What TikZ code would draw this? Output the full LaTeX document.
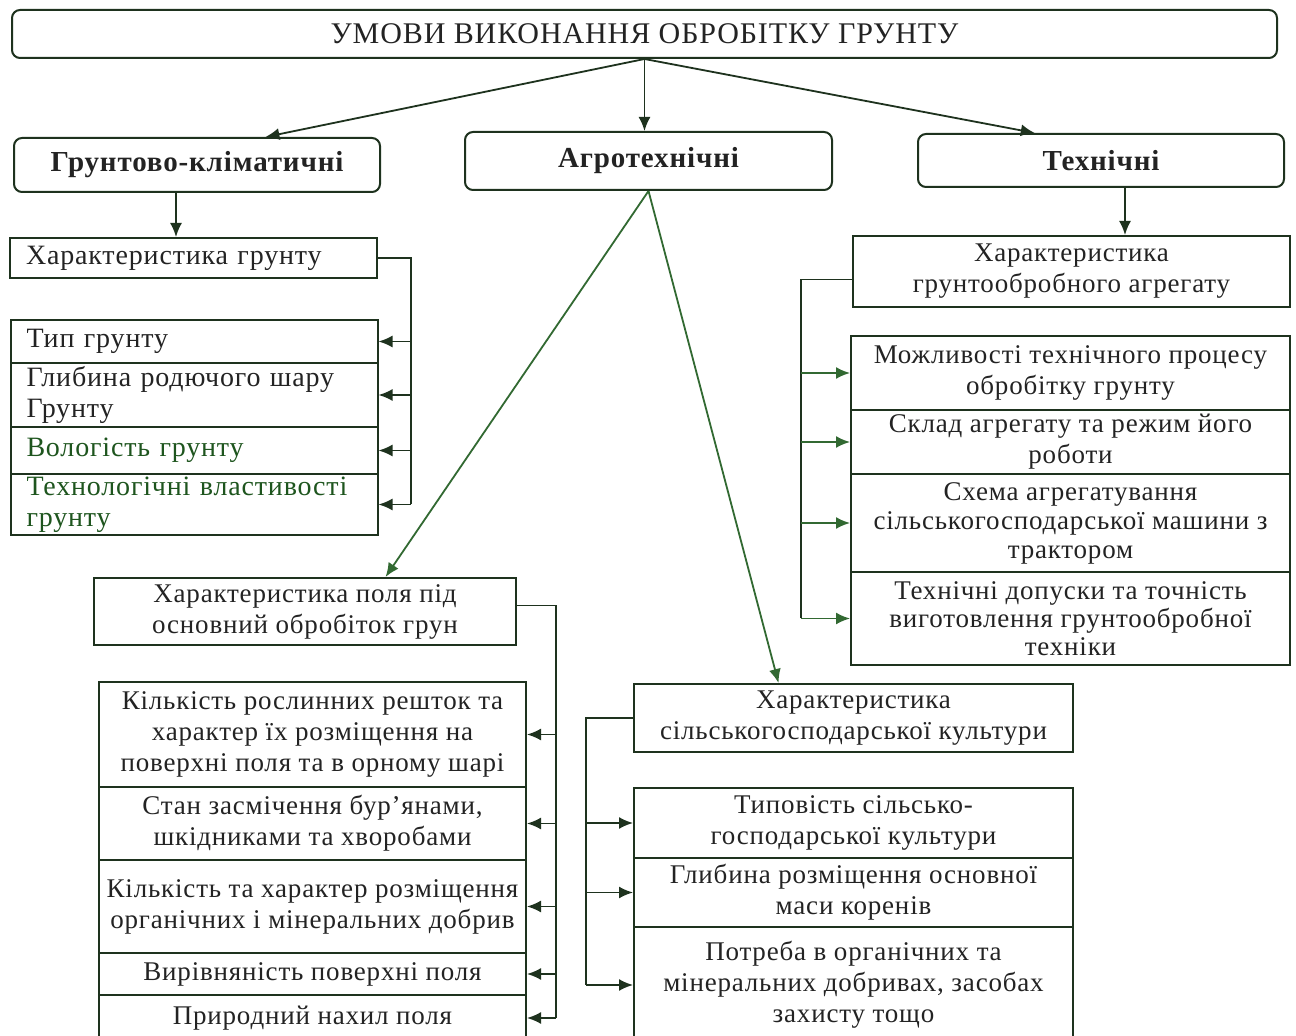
\documentclass[tikz,border=0pt]{standalone}
\usepackage{fontspec}
\setmainfont[LetterSpace=3]{Liberation Serif}
\usetikzlibrary{arrows.meta,calc}
\definecolor{lc}{RGB}{30,50,30}
\definecolor{gl}{RGB}{50,105,50}
\definecolor{tc}{RGB}{35,35,35}
\definecolor{gt}{RGB}{30,85,30}
\begin{document}
\begin{tikzpicture}[x=0.5pt,y=-0.5pt,
  every node/.style={font=\fontsize{13.5}{15.5}\selectfont, text=tc},
  rbox/.style={draw=lc, line width=1pt, rounded corners=4pt, fill=white, inner sep=0pt, align=center},
  box/.style={draw=lc, line width=1pt, fill=white, inner sep=0pt, align=center},
  lbox/.style={box, align=left, inner xsep=8pt, text width=167.5pt, font=\fontsize{14}{15.5}\selectfont},
  arr/.style={draw=lc, line width=0.9pt, -{Latex[length=7pt,width=6pt]}},
  garr/.style={arr, draw=gl},
  ln/.style={draw=lc, line width=0.9pt}]
\useasboundingbox (0,0) rectangle (1296,1036);
\fill[white] (0,0) rectangle (1296,1036);

% level 1
\node[rbox, minimum width=632.5pt, minimum height=24pt, font=\fontsize{15}{16}\selectfont] (top) at (644.5,34) {УМОВИ ВИКОНАННЯ ОБРОБІТКУ ГРУНТУ};

% level 2
\node[rbox, minimum width=183pt, minimum height=27pt, font=\fontsize{14.5}{15.5}\selectfont\bfseries] (gk) at (197,165) {Грунтово-кліматичні};
\node[rbox, minimum width=183.5pt, minimum height=29pt, font=\fontsize{14.5}{15.5}\selectfont\bfseries] (agro) at (648.5,161) {Агротехнічні};
\node[rbox, minimum width=183pt, minimum height=26.5pt, font=\fontsize{14.5}{15.5}\selectfont\bfseries] (tech) at (1101,160.5) {Технічні};

% soil-climatic branch
\node[lbox, minimum height=20pt] (charGr) at (193.5,258) {Характеристика грунту};
\node[lbox, minimum height=21.5pt] (s1) at (194,341.5) {Тип грунту};
\node[lbox, minimum height=32pt] (s2) at (194,395) {Глибина родючого шару\\Грунту};
\node[lbox, minimum height=23.5pt, text=gt] (s3) at (194,450.5) {Вологість грунту};
\node[lbox, minimum height=30.5pt, text=gt] (s4) at (194,504.5) {Технологічні властивості\\грунту};

% agrotechnical: field
\node[box, minimum width=211pt, minimum height=33.5pt] (charPole) at (305,611.5) {Характеристика поля під\\основний обробіток грун};
\node[box, minimum width=213.5pt, minimum height=52.5pt] (p1) at (312.5,734.5) {Кількість рослинних решток та\\характер їх розміщення на\\поверхні поля та в орному шарі};
\node[box, minimum width=213.5pt, minimum height=36.5pt] (p2) at (312.5,823.5) {Стан засмічення бур’янами,\\шкідниками та хворобами};
\node[box, minimum width=213.5pt, minimum height=46.5pt] (p3) at (312.5,906.5) {Кількість та характер розміщення\\органічних і мінеральних добрив};
\node[box, minimum width=213.5pt, minimum height=21pt] (p4) at (312.5,974) {Вирівняність поверхні поля};
\node[box, minimum width=213.5pt, minimum height=23pt] (p5) at (312.5,1018) {Природний нахил поля};

% agrotechnical: crop
\node[box, minimum width=219.5pt, minimum height=34pt] (charKult) at (853.5,718) {Характеристика\\сільськогосподарської культури};
\node[box, minimum width=219.5pt, minimum height=35pt] (k1) at (853.5,823) {Типовість сільсько-\\господарської культури};
\node[box, minimum width=219.5pt, minimum height=34.5pt] (k2) at (853.5,892.5) {Глибина розміщення основної\\маси коренів};
\node[box, minimum width=219.5pt, minimum height=58pt] (k3) at (853.5,985) {Потреба в органічних та\\мінеральних добривах, засобах\\захисту тощо};

% technical
\node[box, minimum width=218.5pt, minimum height=35.5pt] (charAgr) at (1071.5,271.5) {Характеристика\\грунтообробного агрегату};
\node[box, minimum width=219.5pt, minimum height=37pt] (t1) at (1070.5,373) {Можливості технічного процесу\\обробітку грунту};
\node[box, minimum width=219.5pt, minimum height=32pt] (t2) at (1070.5,442) {Склад агрегату та режим його\\роботи};
\node[box, minimum width=219.5pt, minimum height=49pt, font=\fontsize{13.5}{14.5}\selectfont] (t3) at (1070.5,523) {Схема агрегатування\\сільськогосподарської машини з\\трактором};
\node[box, minimum width=219.5pt, minimum height=46.5pt, font=\fontsize{13.5}{14}\selectfont] (t4) at (1070.5,618.5) {Технічні допуски та точність\\виготовлення грунтообробної\\техніки};

% connectors from top
\draw[arr] (top.south) -- ($(gk.north west)!0.686!(gk.north east)$);
\draw[arr] (top.south) -- (top.south |- agro.north);
\draw[arr] (top.south) -- ($(tech.north west)!0.32!(tech.north east)$);

% soil-climatic
\draw[arr] ($(gk.south)+(-21,0)$) coordinate (g1) -- (g1 |- charGr.north);
\draw[ln] (charGr.east) -- ++(33,0) coordinate (bL) -- (bL |- s4.east);
\foreach \n in {s1,s2,s3,s4} \draw[arr] (bL |- \n.east) -- (\n.east);

% agrotechnical
\draw[garr] (agro.south) -- ($(charPole.north west)!0.69!(charPole.north east)$);
\draw[garr] (agro.south) -- ($(charKult.north west)!0.33!(charKult.north east)$);
\draw[ln] ($(charPole.east)+(0,-6)$) -- ++(39,0) coordinate (bP) -- (bP |- p5.east);
\foreach \n in {p1,p2,p3,p4,p5} \draw[arr] (bP |- \n.east) -- (\n.east);
\draw[ln] (charKult.west) -- ++(-47,0) coordinate (bK) -- (bK |- k3.west);
\foreach \n in {k1,k2,k3} \draw[arr] (bK |- \n.west) -- (\n.west);

% technical
\draw[arr] ($(tech.south)+(24,0)$) coordinate (t0) -- (t0 |- charAgr.north);
\draw[ln] ($(charAgr.west)+(0,8)$) -- ++(-51,0) coordinate (bT) -- (bT |- t4.west);
\foreach \n in {t1,t2,t3,t4} \draw[garr] (bT |- \n.west) -- (\n.west);
\end{tikzpicture}
\end{document}
